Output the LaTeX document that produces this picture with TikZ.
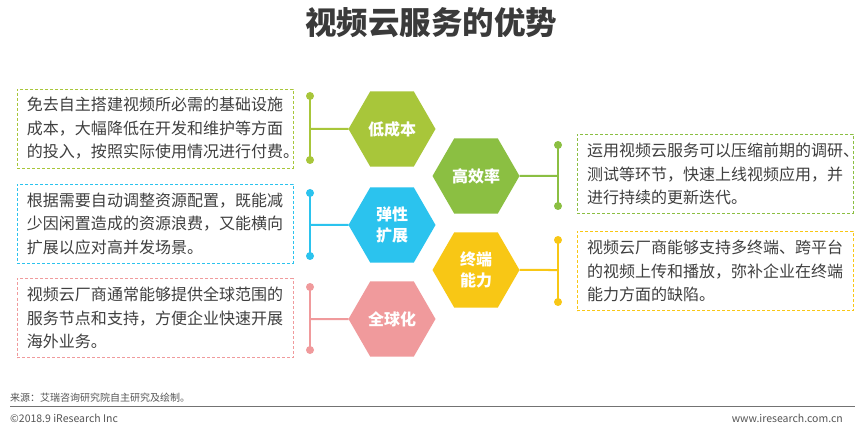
\documentclass[tikz,border=0pt]{standalone}
\usepackage{fontspec}
\setmainfont{Noto Sans CJK SC}
\usetikzlibrary{shapes.geometric}
\definecolor{clime}{HTML}{A8C63A}
\definecolor{cgreen}{HTML}{8BBF42}
\definecolor{cblue}{HTML}{2BC3EE}
\definecolor{cyellow}{HTML}{F8C715}
\definecolor{cpink}{HTML}{F09A9C}
\definecolor{ctext}{HTML}{3F3F3F}
\definecolor{ctitle}{HTML}{3A3A3A}
\definecolor{cfoot}{HTML}{555555}
\tikzset{
  hexnode/.style={regular polygon, regular polygon sides=6, minimum size=87pt,
    inner sep=0pt, outer sep=0pt, fill=#1, text=white, align=center,
    font=\fontsize{16}{21}\selectfont\bfseries},
  descbox/.style={draw=#1, dashed, dash pattern=on 3pt off 2pt, line width=0.9pt,
    text width=256pt, inner xsep=10pt, inner ysep=0pt,
    minimum height=79pt, outer sep=0pt,
    align=left, text=ctext, font=\fontsize{16}{23.5}\selectfont},
  conn/.style={draw=#1, line width=2pt},
  dotend/.style={fill=#1, circle, inner sep=0pt, minimum size=8pt},
}
\begin{document}
\begin{tikzpicture}[x=1pt,y=-1pt]
\useasboundingbox[fill=white] (0,0) rectangle (864,430);

% title
\node[font=\fontsize{31.5}{34}\selectfont\bfseries, text=ctitle] (title) at (431,23) {视频云服务的优势};

% hexagons
\node[hexnode=clime]   (h1) at (392,129) {低成本};
\node[hexnode=cgreen]  (h2) at (476,176) {高效率};
\node[hexnode=cblue]   (h3) at (392,225) {弹性\\扩展};
\node[hexnode=cyellow] (h4) at (476,270) {终端\\能力};
\node[hexnode=cpink]   (h5) at (392,319) {全球化};

% boxes
\node[descbox=clime] (b1) at (155,128.5) {免去自主搭建视频所必需的基础设施\\成本，大幅降低在开发和维护等方面\\的投入，按照实际使用情况进行付费。};
\node[descbox=cblue] (b3) at (155,223.5) {根据需要自动调整资源配置，既能减\\少因闲置造成的资源浪费，又能横向\\扩展以应对高并发场景。};
\node[descbox=cpink] (b5) at (155,318) {视频云厂商通常能够提供全球范围的\\服务节点和支持，方便企业快速开展\\海外业务。};
\node[descbox=cgreen] (b2) at (715,174) {运用视频云服务可以压缩前期的调研、\\测试等环节，快速上线视频应用，并\\进行持续的更新迭代。};
\node[descbox=cyellow] (b4) at (715,271) {视频云厂商能够支持多终端、跨平台\\的视频上传和播放，弥补企业在终端\\能力方面的缺陷。};

% connector points
\coordinate (c1) at (310,129); \coordinate (c1t) at (310,96);  \coordinate (c1b) at (310,160);
\coordinate (c3) at (310,225); \coordinate (c3t) at (310,193); \coordinate (c3b) at (310,256);
\coordinate (c5) at (310,319); \coordinate (c5t) at (310,287); \coordinate (c5b) at (310,350);
\coordinate (c2) at (558,176); \coordinate (c2t) at (558,145); \coordinate (c2b) at (558,206);
\coordinate (c4) at (558,270); \coordinate (c4t) at (558,240); \coordinate (c4b) at (558,302);

\draw[conn=clime] (h1.west) -- (c1); \draw[conn=clime] (c1t) -- (c1b);
\node[dotend=clime] (d1t) at (c1t) {}; \node[dotend=clime] (d1b) at (c1b) {};
\draw[conn=cblue] (h3.west) -- (c3); \draw[conn=cblue] (c3t) -- (c3b);
\node[dotend=cblue] (d3t) at (c3t) {}; \node[dotend=cblue] (d3b) at (c3b) {};
\draw[conn=cpink] (h5.west) -- (c5); \draw[conn=cpink] (c5t) -- (c5b);
\node[dotend=cpink] (d5t) at (c5t) {}; \node[dotend=cpink] (d5b) at (c5b) {};
\draw[conn=cgreen] (h2.east) -- (c2); \draw[conn=cgreen] (c2t) -- (c2b);
\node[dotend=cgreen] (d2t) at (c2t) {}; \node[dotend=cgreen] (d2b) at (c2b) {};
\draw[conn=cyellow] (h4.east) -- (c4); \draw[conn=cyellow] (c4t) -- (c4b);
\node[dotend=cyellow] (d4t) at (c4t) {}; \node[dotend=cyellow] (d4b) at (c4b) {};

% footer
\node[anchor=west, font=\fontsize{10}{12}\selectfont, text=cfoot, inner sep=0pt] (src) at (10,398) {来源：艾瑞咨询研究院自主研究及绘制。};
\coordinate (fl) at (10,406); \coordinate (fr) at (855,406);
\draw[draw=black!55, line width=0.8pt] (fl) -- (fr);
\node[anchor=west, font=\fontsize{10.5}{12}\selectfont, text=cfoot, inner sep=0pt] (copy) at (10,418) {©2018.9 iResearch Inc};
\node[anchor=east, font=\fontsize{10.5}{12}\selectfont, text=cfoot, inner sep=0pt] (web) at (843,418) {www.iresearch.com.cn};
\end{tikzpicture}
\end{document}
